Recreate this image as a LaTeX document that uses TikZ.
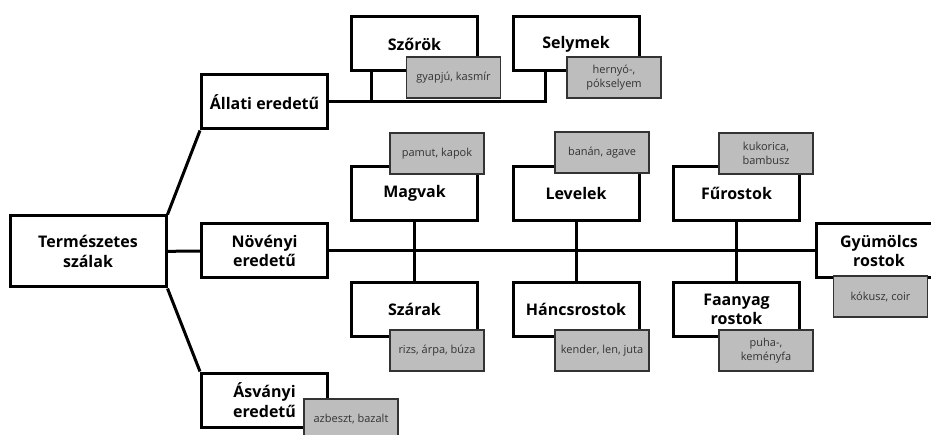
\documentclass[tikz,border=0pt]{standalone}
\usepackage{fontspec}
\setmainfont{Open Sans}
\usepackage{tikz}
\usetikzlibrary{backgrounds}
\definecolor{notegray}{RGB}{189,189,189}
\definecolor{notetext}{RGB}{51,51,51}
\tikzset{%
    fiber/.style={%
        draw, line width=3pt, fill=white, minimum width=126pt, minimum height=54pt,
        align=center, inner sep=2pt, font=\fontsize{16}{19.7}\selectfont\bfseries},
    note/.style={%
        draw=notetext, line width=1.2pt, fill=notegray, minimum width=94pt, minimum height=41pt,
        align=center, inner sep=2pt, text=notetext, font=\fontsize{11}{13.5}\selectfont},
    branch/.style={line width=3pt, line join=miter}
}

\begin{document}
\begin{tikzpicture}[x=1pt,y=-1pt]
    \useasboundingbox (0,0) rectangle (931,435);

    \node[fiber, minimum width=156pt, minimum height=71pt] (natural) at (88,251.5) {Természetes\\szálak};
    \node[fiber] (allati) at (264.5,102) {Állati eredetű};
    \node[fiber] (novenyi) at (264.5,251) {Növényi\\eredetű};
    \node[fiber] (asvanyi) at (264.5,400) {Ásványi\\eredetű};

    % animal fibres
    \node[fiber] (szorok) at (414.5,44) {Szőrök};
    \node[fiber] (selymek) at (576,44) {Selymek};
    \node[note] (szorokex) at (453.5,77.5) {gyapjú, kasmír};
    \node[note] (selymekex) at (614,77.5) {hernyó-,\\pókselyem};

    % plant fibres
    \node[fiber] (magvak) at (414.5,193.5) {Magvak};
    \node[fiber] (levelek) at (576,193.5) {Levelek};
    \node[fiber] (furostok) at (736.5,193.5) {Fűrostok};
    \node[fiber] (szarak) at (414.5,309.5) {Szárak};
    \node[fiber] (hancs) at (576,309.5) {Háncsrostok};
    \node[fiber] (faanyag) at (736.5,309.5) {Faanyag\\rostok};
    \node[fiber] (gyumolcs) at (879,251) {Gyümölcs\\rostok};

    \node[note] (magvakex) at (437,153.5) {pamut, kapok};
    \node[note] (levelekex) at (602,152.5) {banán, agave};
    \node[note] (furostokex) at (766,153.5) {kukorica,\\bambusz};
    \node[note] (szarakex) at (437,350.5) {rizs, árpa, búza};
    \node[note] (hancsex) at (602,350.5) {kender, len, juta};
    \node[note] (faanyagex) at (766,350.5) {puha-,\\keményfa};
    \node[note] (gyumolcsex) at (880.5,296.5) {kókusz, coir};

    % mineral fibres
    \node[note] (asvanyiex) at (351,419.5) {azbeszt, bazalt};

    \coordinate (szorokjoin) at (371,102);
    \coordinate (selymekjoin) at (545,102);

    \begin{scope}[on background layer]
        \draw[branch] (natural.north east) -- (allati.south west);
        \draw[branch] (natural.south east) -- (asvanyi.north west);
        \draw[branch] (natural) -- (novenyi);
        \draw[branch] (novenyi) -- (gyumolcs);
        \draw[branch] (allati) -- (selymekjoin) -- (selymekjoin |- selymek.south);
        \draw[branch] (szorokjoin) -- (szorokjoin |- szorok.south);
        \draw[branch] (magvak) -- (szarak);
        \draw[branch] (levelek) -- (hancs);
        \draw[branch] (furostok) -- (faanyag);
    \end{scope}
\end{tikzpicture}
\end{document}
